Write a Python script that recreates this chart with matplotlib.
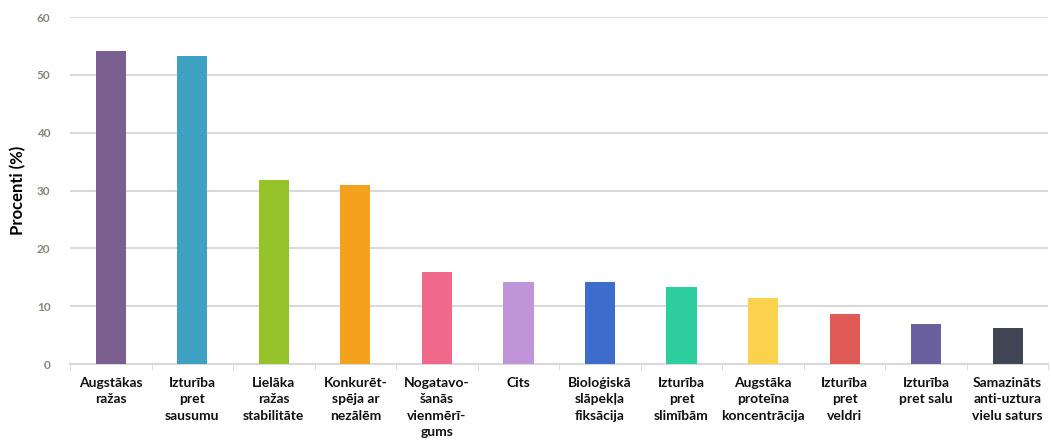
import matplotlib.pyplot as plt
import numpy as np

plt.rcParams['font.family'] = ['Lato', 'DejaVu Sans']

categories = [
    "Augstākas\nražas",
    "Izturība\npret\nsausumu",
    "Lielāka\nražas\nstabilitāte",
    "Konkurēt-\nspēja ar\nnezālēm",
    "Nogatavo-\nšanās\nvienmērī-\ngums",
    "Cits",
    "Bioloģiskā\nslāpekļa\nfiksācija",
    "Izturība\npret\nslimībām",
    "Augstāka\nproteīna\nkoncentrācija",
    "Izturība\npret\nveldri",
    "Izturība\npret salu",
    "Samazināts\nanti-uztura\nvielu saturs",
]
values = [54.2, 53.3, 31.8, 31.0, 15.9, 14.2, 14.2, 13.3, 11.4, 8.6, 6.9, 6.2]
colors = ["#7b5f8e", "#3fa1c1", "#94c42a", "#f4a11d", "#f0688a", "#c094d9",
          "#3d6dcc", "#2ecf9f", "#fbd24b", "#e05a55", "#6a5f9f", "#404656"]
yticks = [0, 10, 20, 30, 40, 50, 60]

fig = plt.figure(figsize=(10.51, 4.43), dpi=100)
ax = fig.add_axes([0.0666, 0.178, 0.931, 0.7836])

x = np.arange(len(categories))
ax.bar(x, values, width=0.37, color=colors, zorder=3)

ax.set_xlim(-0.5, len(categories) - 0.5)
ax.set_ylim(0, 60)
ax.set_yticks(yticks)
ax.yaxis.grid(True, color="#d9d9d9", linewidth=1.5, zorder=0)
ax.tick_params(axis="y", length=0, labelsize=8.5, labelcolor="#8c8478", pad=14)
for lbl in ax.get_yticklabels():
    lbl.set_fontweight("bold")

ax.set_xticks(x)
ax.set_xticklabels(categories, fontsize=10, fontweight="bold", color="#111111",
                   linespacing=1.45)
ax.tick_params(axis="x", length=0, pad=9)
ax.set_xticks(np.arange(-0.5, len(categories)), minor=True)
ax.tick_params(axis="x", which="minor", length=4, color="#d9d9d9")

for side in ["top", "right", "left"]:
    ax.spines[side].set_visible(False)
ax.spines["bottom"].set_color("#d9d9d9")
ax.spines["bottom"].set_linewidth(1.5)

ax.set_ylabel("Procenti (%)", fontsize=12, fontweight="bold", labelpad=8)

fig.savefig("out.png", dpi=100)
